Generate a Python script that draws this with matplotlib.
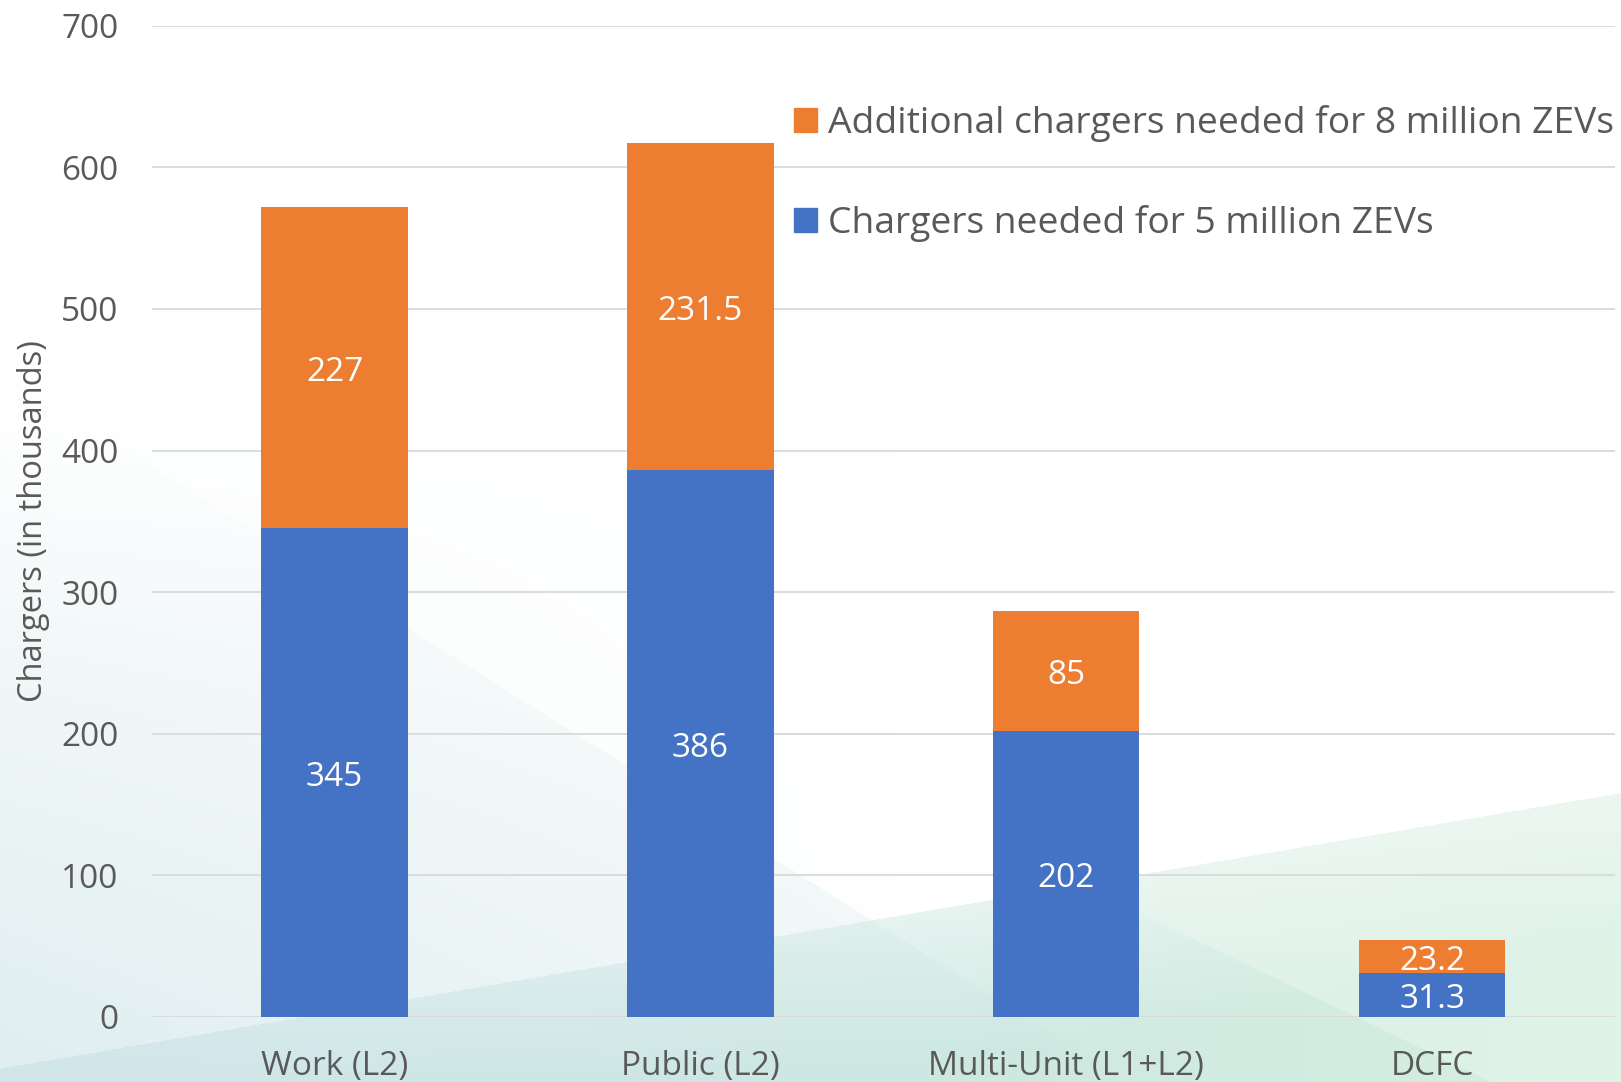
import numpy as np
import matplotlib
matplotlib.use("Agg")
import matplotlib.pyplot as plt
from matplotlib.patches import Patch

plt.rcParams["font.family"] = ["Open Sans", "DejaVu Sans"]

# data (thousands of chargers)
categories = ["Work (L2)", "Public (L2)", "Multi-Unit (L1+L2)", "DCFC"]
base_5m = [345, 386, 202, 31.3]
extra_8m = [227, 231.5, 85, 23.2]
base_labels = ["345", "386", "202", "31.3"]
extra_labels = ["227", "231.5", "85", "23.2"]
yticks = [0, 100, 200, 300, 400, 500, 600, 700]

blue = "#4472C4"
orange = "#ED7D31"
grey = "#595959"

W, H = 1621, 1082
fig = plt.figure(figsize=(W / 100, H / 100), dpi=100)

# background wash (teal / green shapes at the bottom)
yy, xx = np.mgrid[0:H, 0:W].astype(float)
img = np.ones((H, W, 3))

haze = yy > 560 + 0.63 * (xx - 300)
a1 = np.clip((yy - 420) / 700, 0, 1) * (1 - 0.6 * xx / W) * 0.5
c1 = np.array([205, 228, 230]) / 255
img = np.where(haze[..., None], img * (1 - a1[..., None]) + c1 * a1[..., None], img)
# soft wash over the whole left side
a0 = (np.clip((yy - 380) / 800, 0, 1) * np.clip(1 - xx / 900, 0, 1) * 0.35)[..., None]
img = img * (1 - a0) + c1 * a0

band = yy > 1068 - 0.17 * xx
t = (xx / W)[..., None]
c2 = (1 - t) * np.array([192, 221, 227]) / 255 + t * np.array([208, 237, 220]) / 255
a2 = np.clip(0.45 + (yy - (1068 - 0.17 * xx)) / 350, 0, 0.9)[..., None]
band_img = img * (1 - a2) + c2 * a2
light = yy < 913 + 0.48 * (xx - 1140)
band_img = np.where(light[..., None], band_img * 0.55 + 0.45 * np.array([0.93, 0.97, 0.94]), band_img)
img = np.where(band[..., None], band_img, img)

bg = fig.add_axes([0, 0, 1, 1], zorder=-1)
bg.imshow(img, aspect="auto", extent=(0, 1, 0, 1))
bg.axis("off")

ax = fig.add_axes([0.0936, 0.0601, 0.9027, 0.9161])
ax.patch.set_alpha(0)

x = np.arange(len(categories))
b1 = ax.bar(x, base_5m, width=0.4, color=blue, zorder=3)
b2 = ax.bar(x, extra_8m, width=0.4, bottom=base_5m, color=orange, zorder=3)

anns = ax.bar_label(b1, labels=base_labels, label_type="center", color="white", fontsize=24)
anns += ax.bar_label(b2, labels=extra_labels, label_type="center", color="white", fontsize=24)
for a in anns:
    a.xyann = (0, -3.6)

ax.set_xlim(-0.5, 3.5)
ax.set_ylim(0, 700)
ax.set_yticks(yticks)
ax.set_xticks(x)
ax.set_xticklabels(categories)
ax.tick_params(axis="both", length=0, labelsize=24, colors=grey)
ax.tick_params(axis="y", pad=24)
ax.tick_params(axis="x", pad=24)
ax.grid(axis="y", color="#d9d9d9", linewidth=1.3, zorder=0)
for s in ax.spines.values():
    s.set_visible(False)

ax.set_ylabel("Chargers (in thousands)", fontsize=23.5, color=grey)
ax.yaxis.set_label_coords(-0.0697, 0.5)

handles = [Patch(color=orange), Patch(color=blue)]
labels = ["Additional chargers needed for 8 million ZEVs", "Chargers needed for 5 million ZEVs"]
fig.legend(handles, labels, loc="upper left", bbox_to_anchor=(0.490, 0.903),
           frameon=False, fontsize=26.8, labelcolor=grey, handlelength=0.6,
           handleheight=0.6, handletextpad=0.3, labelspacing=1.69, borderpad=0,
           borderaxespad=0)

fig.savefig("out.png", dpi=100)
